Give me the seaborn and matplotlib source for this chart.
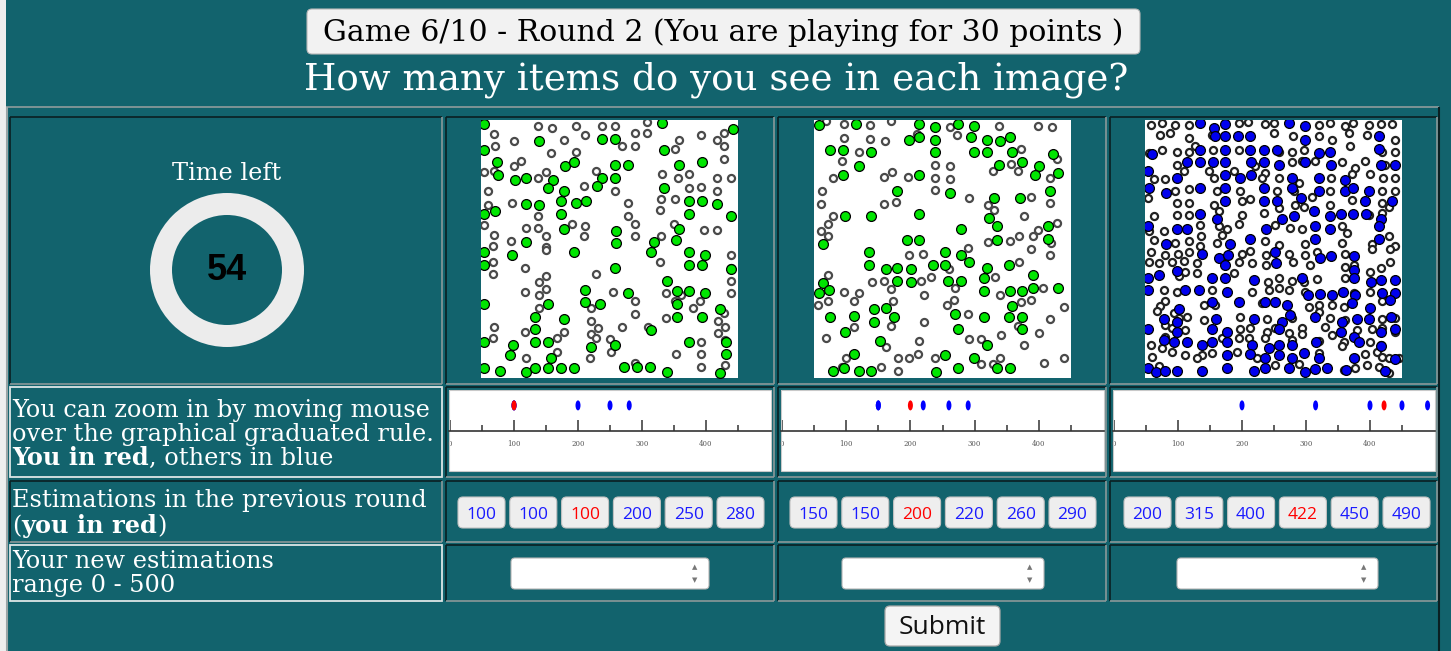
import matplotlib
matplotlib.use('Agg')
import matplotlib.pyplot as plt
import seaborn as sns
import pandas as pd
from matplotlib.patches import Rectangle, FancyBboxPatch, Wedge
from matplotlib.markers import MarkerStyle
from matplotlib.path import Path
from matplotlib.transforms import Affine2D

title_text = 'Game 6/10 - Round 2 (You are playing for 30 points )'
question_text = 'How many items do you see in each image?'
time_left = 54

est_img1 = [100, 100, 100, 200, 250, 280]
est_img2 = [150, 150, 200, 220, 260, 290]
est_img3 = [200, 315, 400, 422, 450, 490]
my_index = [2, 2, 3]

rule_major = [0, 100, 200, 300, 400]
rule_minor = [50, 150, 250, 350, 450]

img1_green = [(18, 18), (183, 68), (372, 64), (410, 64), (553, 15), (765, 33), (18, 95), (557, 95),
              (58, 133), (60, 172), (110, 186), (143, 180), (226, 186), (260, 145), (289, 133),
              (410, 142), (450, 142), (372, 180), (410, 180), (357, 203), (210, 210), (258, 218),
              (603, 140), (673, 133), (557, 210), (250, 248), (295, 255), (325, 248), (143, 258),
              (183, 260), (18, 288), (50, 280), (250, 288), (603, 332), (633, 250), (673, 248),
              (718, 258), (633, 288), (758, 295), (258, 332), (413, 338), (143, 372), (413, 375),
              (527, 372), (593, 365),
              (18, 402), (103, 410), (288, 402), (518, 402), (633, 402), (680, 410), (18, 440),
              (410, 450), (633, 440), (673, 440), (760, 452), (566, 487), (320, 515), (450, 525),
              (598, 518), (633, 518), (680, 525), (18, 557), (210, 557), (320, 552), (366, 557),
              (598, 557), (172, 595), (258, 602), (596, 595), (672, 595), (725, 572), (172, 632),
              (520, 635), (18, 672), (105, 680), (172, 672), (210, 672), (340, 686), (410, 680),
              (633, 672), (95, 710), (218, 718), (745, 708), (18, 748), (65, 758), (145, 762),
              (172, 748), (210, 748), (250, 748), (288, 748), (438, 745), (477, 745), (515, 745),
              (568, 760), (725, 765), (745, 670)]
img1_hollow = [(180, 25), (222, 30), (295, 25), (372, 25), (410, 25), (508, 12), (48, 48), (108, 68),
               (258, 65), (322, 52), (470, 45), (508, 45), (668, 52), (718, 65), (738, 45), (50, 85),
               (220, 105), (295, 103), (432, 85), (470, 85), (592, 92), (603, 65), (738, 85),
               (738, 122), (108, 145), (130, 130), (18, 162), (48, 158), (180, 180), (205, 163),
               (355, 158), (553, 168), (632, 168), (718, 180), (758, 180), (600, 180), (30, 218),
               (318, 203), (410, 218), (632, 210), (668, 208), (718, 218), (103, 255), (30, 262),
               (548, 242), (590, 242), (450, 255), (545, 275), (180, 295), (450, 295), (18, 322),
               (48, 352), (145, 330), (180, 330), (205, 355), (322, 325), (282, 318), (318, 355),
               (470, 355), (470, 318), (588, 318), (678, 335), (718, 335), (100, 368), (548, 355),
               (45, 385), (205, 388),
               (45, 430), (205, 395), (140, 448), (545, 432), (46, 468), (205, 472), (183, 490),
               (353, 468), (140, 520), (183, 530), (205, 512), (405, 520), (470, 548), (563, 525),
               (592, 548), (610, 530), (665, 548), (758, 410), (758, 448), (758, 488), (758, 525),
               (183, 570), (340, 570), (470, 588), (565, 600), (645, 570), (738, 585), (720, 608),
               (48, 625), (140, 640), (258, 640), (340, 608), (360, 630), (340, 648), (432, 625),
               (510, 625), (740, 625), (720, 645), (45, 660), (238, 660), (355, 660), (395, 662),
               (238, 700), (398, 700), (335, 718), (145, 718), (595, 708), (670, 670), (670, 708),
               (740, 665), (470, 735), (670, 745), (740, 740)]

img2_green = [(25, 22), (135, 18), (325, 18), (372, 27), (440, 18), (488, 25), (295, 65), (325, 58),
              (372, 65), (480, 58), (527, 65), (568, 68), (596, 57), (58, 95), (95, 95), (180, 102),
              (372, 102), (488, 102), (527, 102), (603, 102), (725, 108), (145, 145), (565, 140),
              (633, 133), (683, 145), (95, 172), (325, 172), (673, 172), (740, 165), (718, 218),
              (258, 218), (418, 225), (548, 240), (626, 240), (103, 295), (180, 295), (325, 288),
              (535, 300), (558, 325), (450, 333), (710, 325), (288, 365), (325, 365), (558, 365),
              (710, 362), (35, 378),
              (173, 402), (403, 402), (450, 410), (173, 440), (225, 452), (258, 450), (300, 452),
              (365, 440), (403, 440), (473, 432), (527, 448), (595, 440), (665, 470), (258, 488),
              (300, 492), (410, 488), (450, 488), (518, 480), (35, 495), (55, 515), (25, 525),
              (518, 518), (596, 518), (633, 518), (665, 510), (740, 510), (188, 572), (225, 568),
              (603, 563), (58, 595), (130, 592), (250, 595), (433, 587), (518, 595), (595, 595),
              (633, 595), (188, 610), (103, 640), (440, 632), (633, 632), (208, 668), (527, 680),
              (130, 708), (403, 710), (488, 718), (65, 758), (98, 748), (145, 758), (180, 758),
              (375, 760), (440, 748), (558, 748), (596, 748)]
img2_hollow = [(45, 10), (100, 18), (178, 20), (240, 10), (418, 27), (565, 25), (680, 25), (722, 28),
               (100, 60), (178, 62), (222, 68), (318, 48), (437, 50), (145, 102), (630, 92),
               (738, 122), (92, 128), (242, 162), (218, 178), (292, 178), (372, 140), (416, 145),
               (372, 180), (416, 182), (545, 160), (600, 138), (622, 160), (718, 180), (65, 180),
               (32, 220), (30, 258), (218, 258), (255, 252), (372, 215), (473, 240), (530, 262),
               (548, 275), (660, 238), (718, 255), (65, 295), (52, 318), (30, 338), (50, 355),
               (640, 295), (738, 315), (680, 335), (530, 373), (598, 368), (625, 355), (665, 355),
               (720, 375), (470, 390),
               (295, 410), (335, 408), (660, 392), (718, 410), (623, 430), (413, 452), (52, 470),
               (183, 492), (220, 488), (330, 488), (360, 475), (553, 475), (100, 520), (143, 525),
               (240, 512), (433, 510), (340, 530), (568, 530), (695, 508), (50, 548), (22, 560),
               (128, 548), (245, 548), (430, 545), (408, 560), (630, 552), (660, 545), (758, 565),
               (470, 587), (240, 622), (340, 610), (128, 625), (620, 622), (718, 602), (45, 660),
               (325, 668), (473, 663), (510, 663), (570, 650), (685, 645), (225, 685), (640, 680),
               (105, 720), (92, 745), (260, 720), (295, 718), (322, 708), (373, 718), (567, 720),
               (510, 737), (545, 737), (700, 735), (758, 718), (210, 745), (260, 758)]

img3_blue = [(173, 15), (250, 18), (440, 15), (490, 25), (215, 30), (218, 55), (250, 55), (288, 55),
             (325, 55), (490, 65), (712, 55), (30, 108), (175, 95), (250, 95), (325, 95), (365, 95),
             (405, 95), (530, 105), (565, 102), (712, 92), (135, 132), (175, 132), (212, 132),
             (250, 132), (328, 132), (365, 132), (412, 140), (490, 132), (568, 140), (718, 140),
             (758, 140), (18, 160), (105, 180), (250, 172), (295, 180), (328, 172), (450, 180),
             (530, 180), (608, 185), (20, 210), (175, 210), (250, 210), (365, 210), (450, 210),
             (530, 218), (608, 220), (633, 210), (680, 218), (73, 225), (250, 248), (365, 248),
             (405, 248), (478, 240), (670, 248), (750, 248), (175, 288), (225, 303), (420, 303),
             (455, 295), (515, 280), (565, 295), (598, 288), (633, 288), (673, 288), (718, 303),
             (18, 325), (105, 332), (135, 332), (373, 332), (520, 325), (565, 332), (710, 325),
             (73, 378), (265, 378), (325, 362), (520, 362), (712, 362),
             (180, 408), (230, 418), (258, 410), (400, 400), (402, 435), (535, 418), (568, 412),
             (637, 412), (250, 440), (635, 455), (105, 458), (18, 478), (50, 470), (210, 480),
             (250, 480), (335, 485), (480, 478), (635, 480), (688, 490), (718, 485), (758, 485),
             (130, 515), (172, 515), (18, 515), (255, 520), (498, 530), (535, 528), (570, 530),
             (603, 522), (640, 530), (720, 525), (758, 525), (210, 552), (290, 552), (370, 552),
             (400, 552), (435, 560), (745, 545), (630, 555), (110, 572), (685, 570), (65, 602),
             (105, 610), (222, 602), (335, 602), (420, 610), (445, 590), (520, 595), (600, 610),
             (645, 602), (680, 602), (748, 595), (18, 632), (105, 640), (210, 632), (255, 640),
             (410, 632), (598, 640), (635, 655), (718, 640), (758, 632), (65, 665), (95, 672),
             (135, 670), (180, 680), (210, 672), (255, 672), (330, 680), (382, 688), (412, 680),
             (450, 680), (522, 672), (650, 672), (718, 682), (255, 710), (325, 708), (370, 718),
             (410, 710), (450, 718), (485, 705), (530, 718), (635, 718), (760, 722), (18, 748),
             (42, 760), (70, 758), (105, 758), (180, 758), (255, 748), (335, 758), (368, 750),
             (440, 748), (490, 762), (520, 752), (555, 748), (612, 755), (730, 758)]
img3_hollow = [(28, 20), (60, 15), (100, 20), (140, 20), (290, 15), (318, 12), (370, 18), (395, 15),
               (530, 20), (565, 15), (608, 25), (632, 15), (680, 22), (718, 18), (750, 18), (55, 50),
               (85, 45), (140, 60), (210, 52), (395, 45), (452, 55), (530, 55), (570, 65), (622, 45),
               (675, 50), (760, 65), (22, 105), (60, 95), (105, 102), (140, 102), (160, 85),
               (212, 95), (290, 95), (450, 102), (485, 95), (412, 102), (625, 85), (720, 102),
               (760, 102), (105, 140), (125, 158), (200, 158), (275, 160), (340, 145), (370, 165),
               (450, 132), (480, 130), (520, 130), (600, 132), (640, 150), (668, 130), (685, 168),
               (730, 140), (35, 182), (70, 182), (215, 180), (360, 180), (410, 180), (470, 195),
               (568, 180), (630, 168), (722, 180), (760, 180), (100, 218), (140, 212), (225, 218),
               (295, 218), (405, 218), (455, 218), (565, 218), (720, 218), (760, 218), (18, 240),
               (105, 255), (140, 255), (215, 262), (300, 248), (325, 242), (458, 262), (510, 238),
               (565, 260), (630, 245), (720, 255), (740, 268), (35, 295), (105, 292), (140, 292),
               (230, 280), (300, 292), (365, 285), (410, 270), (485, 268), (720, 285), (680, 292),
               (400, 320), (230, 325), (255, 332), (290, 318), (445, 330), (480, 332), (600, 325),
               (615, 345), (22, 340), (65, 340), (175, 322), (240, 352), (178, 355), (140, 368),
               (100, 375), (225, 375), (370, 368), (490, 378), (410, 380), (600, 375), (690, 378),
               (740, 355), (758, 385), (175, 385), (35, 365),
               (28, 400), (68, 410), (108, 408), (140, 400), (300, 408), (325, 398), (373, 410),
               (440, 408), (490, 410), (525, 402), (610, 408), (690, 392), (745, 392), (20, 432),
               (50, 435), (90, 430), (125, 428), (165, 435), (292, 432), (330, 435), (373, 440),
               (452, 432), (505, 440), (610, 445), (635, 440), (685, 460), (718, 450), (745, 432),
               (110, 472), (128, 462), (165, 465), (275, 465), (378, 490), (410, 478), (450, 488),
               (487, 490), (525, 482), (610, 480), (65, 515), (105, 522), (210, 515), (330, 522),
               (380, 515), (412, 510), (440, 515), (490, 520), (600, 522), (635, 525), (685, 522),
               (68, 548), (55, 562), (45, 578), (185, 560), (220, 560), (360, 555), (500, 565),
               (530, 560), (570, 560), (605, 565), (720, 548), (95, 585), (110, 600), (135, 595),
               (185, 605), (295, 595), (375, 602), (450, 600), (530, 580), (565, 600), (610, 605),
               (720, 602), (758, 600), (70, 620), (90, 628), (130, 635), (295, 632), (325, 628),
               (375, 640), (400, 630), (440, 645), (480, 630), (550, 625), (570, 650), (645, 635),
               (690, 632), (720, 628), (760, 640), (70, 655), (240, 660), (290, 660), (320, 660),
               (370, 660), (450, 665), (480, 648), (530, 668), (605, 672), (685, 672), (718, 680),
               (28, 680), (60, 690), (180, 710), (210, 705), (285, 700), (345, 720), (530, 705),
               (600, 682), (640, 718), (670, 708), (705, 700), (720, 715), (30, 715), (90, 700),
               (128, 710), (165, 718), (400, 740), (470, 738), (605, 755), (640, 750), (675, 740),
               (710, 745), (740, 720), (50, 742), (770, 720), (740, 765)]

sns.set_theme(style='white')
plt.rcParams['font.family'] = ['DejaVu Serif', 'DejaVu Sans']

W, H = 1451, 651
TEAL = '#12636d'
DARK = '#0a1f22'
GREY = '#8b9899'
LEFT_FS = 17.3


def fig_box(x0, y0, x1, y1):
    return [x0 / W, 1 - y1 / H, (x1 - x0) / W, (y1 - y0) / H]


fig = plt.figure(figsize=(W / 100, H / 100), dpi=100)
fig.patch.set_facecolor(TEAL)
bg = fig.add_axes([0, 0, 1, 1])
bg.set_xlim(0, W)
bg.set_ylim(H, 0)
bg.axis('off')


def seg(x0, y0, x1, y1, c, lw=1.2):
    bg.plot([x0, x1], [y0, y1], color=c, lw=lw, solid_capstyle='butt')


def cell(x0, y0, x1, y1, light=False):
    if light:
        bg.add_patch(Rectangle((x0, y0), x1 - x0, y1 - y0, fill=False, ec='#dde6e6', lw=1.3))
    else:
        seg(x0, y0, x1, y0, DARK)
        seg(x0, y0, x0, y1, DARK)
        seg(x0, y1, x1, y1, GREY)
        seg(x1, y0, x1, y1, GREY)


# cadre de la page
bg.add_patch(Rectangle((0, 0), 6, H, color='#eeeeee', lw=0))
seg(6, 107, 1439, 107, '#8f9c9d')
seg(6.5, 107, 6.5, H, '#9aa5a6', 1.5)
seg(1439, 107, 1439, H, DARK, 1.5)

rows = [(117, 384), (387, 477), (481, 542), (545, 601)]
cols = [(10, 442), (446, 774), (778, 1106), (1110, 1437)]
for r, (y0, y1) in enumerate(rows):
    for c, (x0, x1) in enumerate(cols):
        cell(x0, y0, x1, y1, light=(c == 0 and r in (1, 3)))

# entete
bg.add_patch(FancyBboxPatch((307, 9), 833, 45, boxstyle='round,pad=0,rounding_size=5',
                            fc='#f2f2f2', ec='#b8b8b8', lw=0.8))
bg.text(723, 33, title_text, ha='center', va='center', fontsize=21.5, color='black')
bg.text(716, 80, question_text, ha='center', va='center', fontsize=26.8, color='white')

# minuteur
bg.text(227, 180, 'Time left', ha='center', va='baseline', fontsize=LEFT_FS, color='white')
bg.add_patch(Wedge((227, 270), 77, 0, 360, width=22, fc='#ececec', ec='none'))
bg.text(227, 271, str(time_left), ha='center', va='center', fontsize=26, weight='bold',
        family='Liberation Sans', color='black')


# textes de la colonne de gauche, morceaux gras et normaux enchaines
def rich_line(x, y, parts):
    prev = None
    for txt, bold in parts:
        w = 'bold' if bold else 'normal'
        if prev is None:
            prev = bg.text(x, y, txt, va='baseline', ha='left', fontsize=LEFT_FS, color='white',
                           weight=w)
        else:
            prev = bg.annotate(txt, xy=(1, 0), xycoords=prev, va='bottom', ha='left',
                               fontsize=LEFT_FS, color='white', weight=w)


rich_line(12, 417, [('You can zoom in by moving mouse', False)])
rich_line(12, 441, [('over the graphical graduated rule.', False)])
rich_line(12, 465, [('You in red', True), (', others in blue', False)])
rich_line(12, 507, [('Estimations in the previous round', False)])
rich_line(12, 533, [('(', False), ('you in red', True), (')', False)])
rich_line(12, 568, [('Your new estimations', False)])
rich_line(12, 592, [('range 0 - 500', False)])


# images de points
def dot_panel(box, hollow, filled, fill_color, hollow_edge):
    ax = fig.add_axes(fig_box(*box))
    ax.set_facecolor('white')
    dh = pd.DataFrame(hollow, columns=['x', 'y'])
    df = pd.DataFrame(filled, columns=['x', 'y'])
    sns.scatterplot(data=dh, x='x', y='y', ax=ax, color='white', edgecolor=hollow_edge,
                    s=26, linewidth=1.6)
    sns.scatterplot(data=df, x='x', y='y', ax=ax, color=fill_color, edgecolor='black',
                    s=50, linewidth=0.9)
    ax.set_xlim(9, 780)
    ax.set_ylim(779, 6)
    ax.set_xticks([])
    ax.set_yticks([])
    ax.set_xlabel('')
    ax.set_ylabel('')
    for s in ax.spines.values():
        s.set_visible(False)


dot_panel((481, 120, 738, 378), img1_hollow, img1_green, '#00e600', '#4a4a4a')
dot_panel((814, 120, 1071, 378), img2_hollow, img2_green, '#00e600', '#4a4a4a')
dot_panel((1145, 120, 1402, 378), img3_hollow, img3_blue, '#0000ee', '#222222')

# regles graduees
ellipse = MarkerStyle(Path.unit_circle().transformed(Affine2D().scale(0.5, 1.0)))


def rule_panel(box, values, mine):
    ax = fig.add_axes(fig_box(*box))
    ax.set_facecolor('white')
    others = [v for i, v in enumerate(values) if i != mine]
    d = pd.DataFrame({'value': others + [values[mine]],
                      'who': ['others'] * len(others) + ['you']})
    d['level'] = 0.81
    sns.scatterplot(data=d, x='value', y='level', hue='who', palette={'others': 'blue', 'you': 'red'},
                    marker=ellipse, s=52, linewidth=0, legend=False, ax=ax)
    ax.set_xlim(-1.6, 501.6)
    ax.set_ylim(0, 1)
    ax.set_xlabel('')
    ax.set_ylabel('')
    ax.set_yticks([])
    for k in ('top', 'left', 'right'):
        ax.spines[k].set_visible(False)
    ax.spines['bottom'].set_position(('axes', 0.49))
    ax.spines['bottom'].set_color('#333333')
    ax.spines['bottom'].set_linewidth(1.2)
    ax.set_xticks(rule_major)
    ax.set_xticklabels([str(v) for v in rule_major])
    ax.set_xticks(rule_minor, minor=True)
    ax.tick_params(axis='x', which='major', direction='in', length=8, width=1.1, color='#333333',
                   labelsize=5, labelcolor='#555555', pad=6, bottom=True)
    ax.tick_params(axis='x', which='minor', direction='in', length=4.5, width=1.1, color='#333333',
                   bottom=True)
    ax.add_patch(Rectangle((0, 0), 1, 1, transform=ax.transAxes, fill=False, ec='#c9c9c9',
                           lw=0.8, clip_on=False))


rule_panel((449, 390, 771, 471), est_img1, my_index[0])
rule_panel((781, 390, 1104, 471), est_img2, my_index[1])
rule_panel((1113, 390, 1435, 471), est_img3, my_index[2])


# boutons des estimations
def est_buttons(x_start, values, mine):
    for i, v in enumerate(values):
        x0 = x_start + i * 51.8
        bg.add_patch(FancyBboxPatch((x0, 497), 47, 31, boxstyle='round,pad=0,rounding_size=5',
                                    fc='#eeeeee', ec='#c2c2c2', lw=0.8))
        bg.text(x0 + 23.5, 519, str(v), ha='center', va='baseline', fontsize=12.5,
                family='Open Sans', color='red' if i == mine else '#1a1aff')


est_buttons(458, est_img1, my_index[0])
est_buttons(790, est_img2, my_index[1])
est_buttons(1124, est_img3, my_index[2])

# champs de saisie
for x0, x1 in [(511, 709), (842, 1044), (1177, 1378)]:
    bg.add_patch(FancyBboxPatch((x0, 558), x1 - x0, 31, boxstyle='round,pad=0,rounding_size=4',
                                fc='white', ec='#b5b5b5', lw=0.8))
    bg.text(x1 - 14, 567, '\u25b2', ha='center', va='center', fontsize=5, color='#777777',
            family='DejaVu Sans')
    bg.text(x1 - 14, 580, '\u25bc', ha='center', va='center', fontsize=5, color='#777777',
            family='DejaVu Sans')

# bouton submit
bg.add_patch(FancyBboxPatch((885, 606), 115, 40, boxstyle='round,pad=0,rounding_size=5',
                            fc='#f4f4f4', ec='#a8a8a8', lw=0.9))
bg.text(942, 634, 'Submit', ha='center', va='baseline', fontsize=19, family='Open Sans',
        color='#111111')

fig.savefig('out.png', dpi=100, facecolor=fig.get_facecolor())
